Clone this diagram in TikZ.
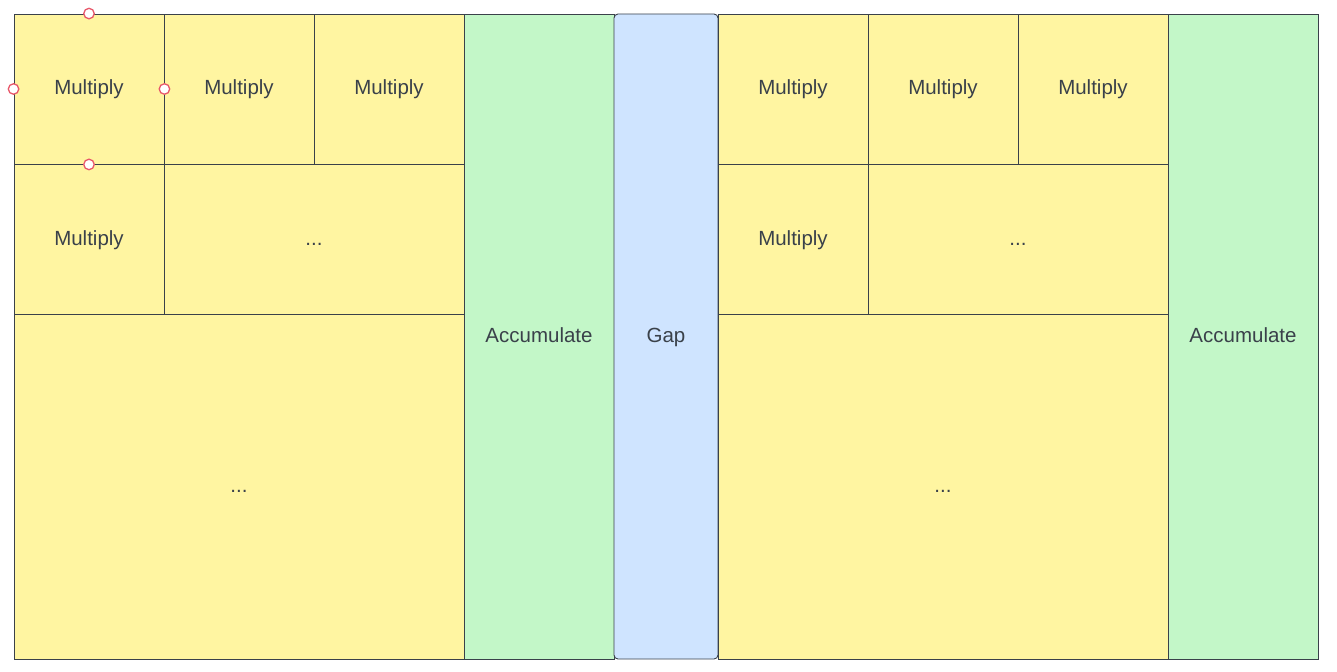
\documentclass[tikz,border=0pt]{standalone}
\usepackage{fontspec}
\setmainfont{Liberation Sans}
\definecolor{ylw}{HTML}{FFF5A1}
\definecolor{grn}{HTML}{C3F7C8}
\definecolor{blu}{HTML}{CFE4FF}
\definecolor{strk}{HTML}{3A414A}
\definecolor{txt}{HTML}{3A414A}
\definecolor{hnd}{HTML}{E8586A}
\begin{document}
\begin{tikzpicture}[x=1bp,y=-1bp,
  cell/.style={draw=strk,line width=0.9bp,inner sep=0,text=txt,font=\fontsize{20.5bp}{24bp}\selectfont,text height=16.5bp,text depth=4.5bp},
  ybox/.style={cell,fill=ylw},
  gbox/.style={cell,fill=grn},
  bbox/.style={cell,fill=blu,rounded corners=4bp},
  handle/.style={circle,draw=hnd,fill=white,line width=1.3bp,minimum size=10.5bp,inner sep=0}]
\useasboundingbox (0,0) rectangle (1337,671);
% left block
\node[ybox,minimum width=150bp,minimum height=150bp] (m1) at (89,89) {Multiply};
\node[ybox,minimum width=150bp,minimum height=150bp] (m2) at (239,89) {Multiply};
\node[ybox,minimum width=150bp,minimum height=150bp] (m3) at (389,89) {Multiply};
\node[ybox,minimum width=150bp,minimum height=150bp] (m4) at (89,239) {Multiply};
\node[ybox,minimum width=300bp,minimum height=150bp] (d1) at (314,239) {...};
\node[ybox,minimum width=450bp,minimum height=345bp] (d2) at (239,486.5) {...};
\node[gbox,minimum width=150bp,minimum height=645bp] (acc1) at (539,336.5) {Accumulate};
% gap
\node[bbox,minimum width=104bp,minimum height=645bp] (gap) at (666,336.5) {Gap};
% right block
\node[ybox,minimum width=150bp,minimum height=150bp] (n1) at (793,89) {Multiply};
\node[ybox,minimum width=150bp,minimum height=150bp] (n2) at (943,89) {Multiply};
\node[ybox,minimum width=150bp,minimum height=150bp] (n3) at (1093,89) {Multiply};
\node[ybox,minimum width=150bp,minimum height=150bp] (n4) at (793,239) {Multiply};
\node[ybox,minimum width=300bp,minimum height=150bp] (e1) at (1018,239) {...};
\node[ybox,minimum width=450bp,minimum height=345bp] (e2) at (943,486.5) {...};
\node[gbox,minimum width=150bp,minimum height=645bp] (acc2) at (1243,336.5) {Accumulate};
% selection handles
\node[handle] (h1) at (m1.north) {};
\node[handle] (h2) at (m1.west) {};
\node[handle] (h3) at (m1.east) {};
\node[handle] (h4) at (m1.south) {};
\end{tikzpicture}
\end{document}
